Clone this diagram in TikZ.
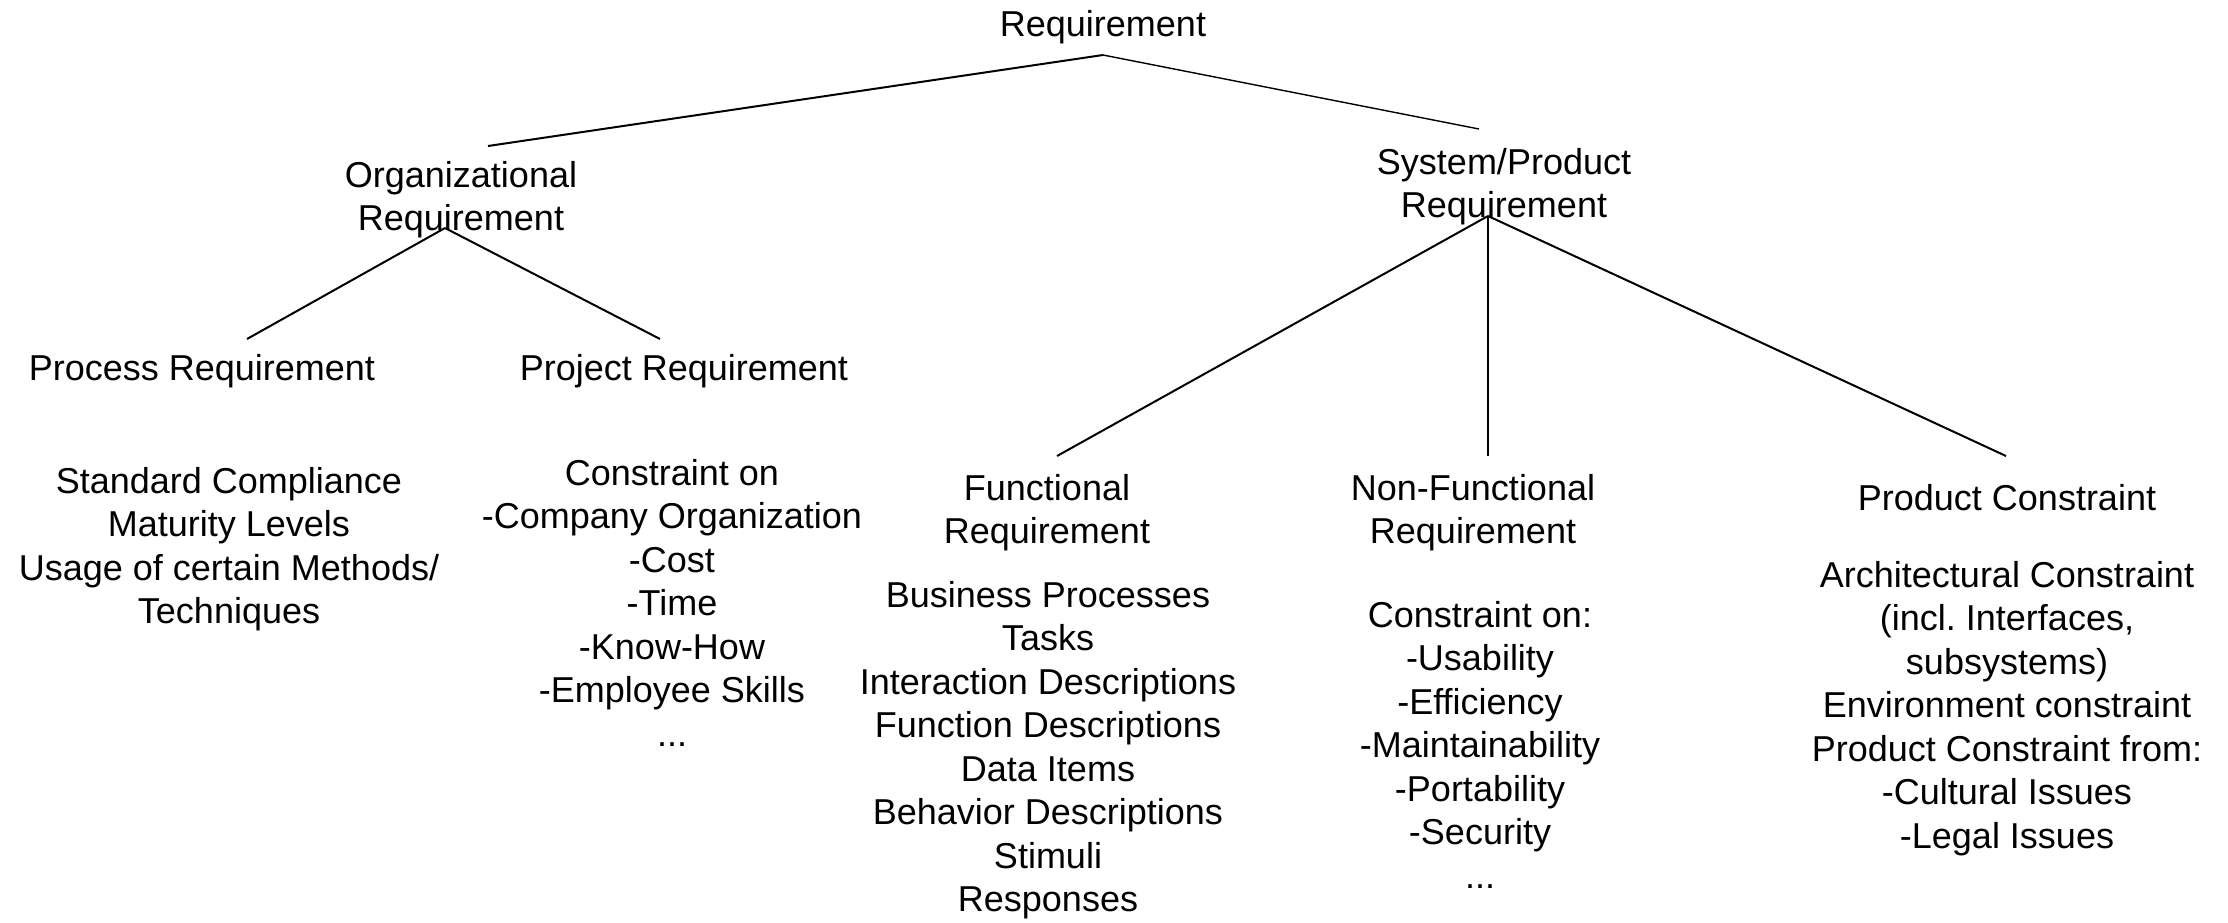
\documentclass[tikz,border=0pt]{standalone}
\usepackage{fontspec}
\setmainfont{Liberation Sans}
\frenchspacing
\begin{document}
\begin{tikzpicture}[x=1pt,y=-1pt,
  lbl/.style={anchor=base, align=center, inner sep=0pt, font=\fontsize{36}{43.5}\selectfont},
  link/.style={line width=2pt},
  thinlink/.style={line width=1.4pt}]
\useasboundingbox (0,0) rectangle (2228,922);
% labels (anchor = baseline of the last line)
\node[lbl] (req) at (1103,36) {Requirement};
\node[lbl] (org) at (461,230.5) {Organizational\\Requirement};
\node[lbl] (sys) at (1504,217.5) {System/Product\\Requirement};
\node[lbl] (proc) at (202,380) {Process Requirement};
\node[lbl] (proj) at (684,380) {Project Requirement};
\node[lbl] (procd) at (229,623.5) {Standard Compliance\\Maturity Levels\\Usage of certain Methods/\\Techniques};
\node[lbl] (projd) at (672,746) {Constraint on\\-Company Organization\\-Cost\\-Time\\-Know-How\\-Employee Skills\\...};
\node[lbl] (fun) at (1047,543.5) {Functional\\Requirement};
\node[lbl] (fund) at (1048,911.5) {Business Processes\\Tasks\\Interaction Descriptions\\Function Descriptions\\Data Items\\Behavior Descriptions\\Stimuli\\Responses};
\node[lbl] (nfun) at (1473,543.5) {Non-Functional\\Requirement};
\node[lbl] (nfund) at (1480,888) {Constraint on:\\-Usability\\-Efficiency\\-Maintainability\\-Portability\\-Security\\...};
\node[lbl] (pc) at (2007,510) {Product Constraint};
\node[lbl] (pcd) at (2007,848) {Architectural Constraint\\(incl. Interfaces,\\subsystems)\\Environment constraint\\Product Constraint from:\\-Cultural Issues\\-Legal Issues};
% connector end points
\coordinate (reqA) at (1103,55);
\coordinate (orgT) at (488,146);
\coordinate (sysT) at (1479,129);
\coordinate (orgA) at (445,228);
\coordinate (procT) at (247,339);
\coordinate (projT) at (660,339);
\coordinate (sysA) at (1488,216);
\coordinate (funT) at (1057,456);
\coordinate (nfunT) at (1488,456);
\coordinate (pcT) at (2006,456);
% connectors
\draw[link] (reqA) -- (orgT);
\draw[thinlink] (reqA) -- (sysT);
\draw[link] (orgA) -- (procT);
\draw[link] (orgA) -- (projT);
\draw[link] (sysA) -- (funT);
\draw[link] (sysA) -- (nfunT);
\draw[link] (sysA) -- (pcT);
\end{tikzpicture}
\end{document}
